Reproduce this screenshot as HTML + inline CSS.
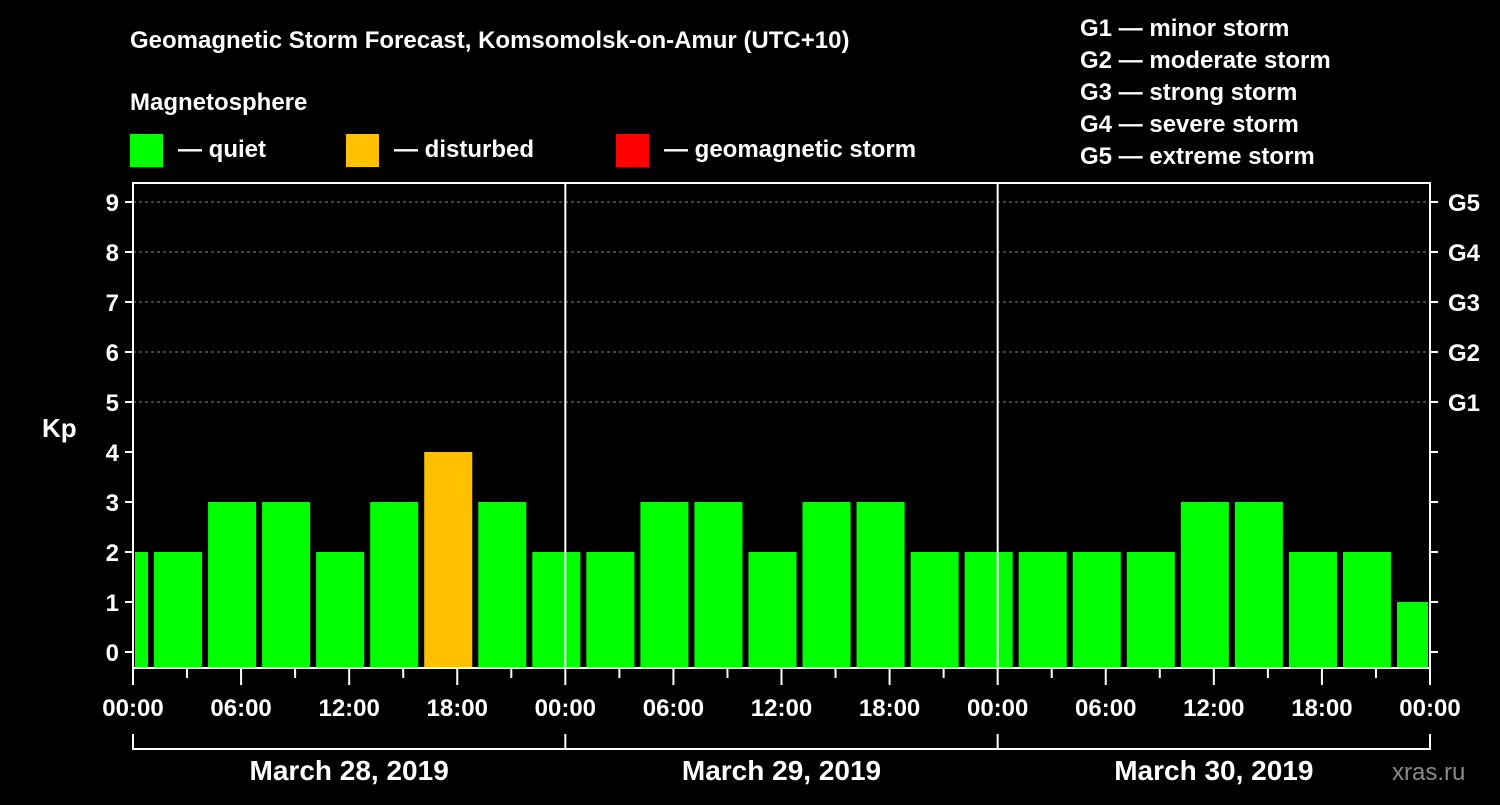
<!DOCTYPE html>
<html><head><meta charset="utf-8"><style>
body{margin:0;background:#000;width:1500px;height:800px;overflow:hidden}
svg text{font-family:"Liberation Sans",Arial,sans-serif;font-weight:bold;fill:#fff}
</style></head><body>
<svg id="c" width="1500" height="800">
<text x="130" y="48" font-size="24">Geomagnetic Storm Forecast, Komsomolsk-on-Amur (UTC+10)</text>
<text x="130" y="110" font-size="24">Magnetosphere</text>
<rect x="130" y="134" width="33" height="33" fill="#00ff00"/>
<text x="178" y="157" font-size="24">— quiet</text>
<rect x="346" y="134" width="33" height="33" fill="#ffc000"/>
<text x="394" y="157" font-size="24">— disturbed</text>
<rect x="616" y="134" width="33" height="33" fill="#ff0000"/>
<text x="664" y="157" font-size="24">— geomagnetic storm</text>
<g font-size="24">
<text x="1080" y="36">G1 — minor storm</text>
<text x="1080" y="68">G2 — moderate storm</text>
<text x="1080" y="100">G3 — strong storm</text>
<text x="1080" y="132">G4 — severe storm</text>
<text x="1080" y="164">G5 — extreme storm</text>
</g>
<text x="42" y="437" font-size="26">Kp</text>
<text x="1392" y="780" font-size="24" fill="#888" style="fill:#8a8a8a;font-weight:normal">xras.ru</text>
<g id="plot"></g>
</svg>
<script>
const values=[2,2,3,3,2,3,4,3,2,2,3,3,2,3,3,2,2,2,2,2,3,3,2,2,1];
const yTicks=[0,1,2,3,4,5,6,7,8,9];
const gLabels=["G1","G2","G3","G4","G5"];
const xLabels=["00:00","06:00","12:00","18:00","00:00","06:00","12:00","18:00","00:00","06:00","12:00","18:00","00:00"];
const days=["March 28, 2019","March 29, 2019","March 30, 2019"];
const L=133,R=1430,T=183,B=668;
const hx=h=>L+h*(R-L)/72;
const ky=v=>652-50*v;
const g=document.getElementById('plot');const NS='http://www.w3.org/2000/svg';
function el(t,a){const e=document.createElementNS(NS,t);for(const k in a)e.setAttribute(k,a[k]);g.appendChild(e);return e;}
// bars: first bin starts at -2h (22:00 prev day)
values.forEach((v,i)=>{
 let s=hx(-2+3*i)+3,e=hx(1+3*i)-3;
 s=Math.max(s,L+2);e=Math.min(e,R-2);
 const r=el('rect',{x:s,y:ky(v),width:e-s,height:B-1-ky(v),fill:v>=5?'#ff0000':v>=4?'#ffc000':'#00ff00'});
 
 
});
// grid
yTicks.forEach(v=>{
 if(v>=5){const l=el('line',{x1:L,x2:R,y1:ky(v),y2:ky(v),stroke:'#888','stroke-dasharray':'3,3','stroke-width':1});
 
 }
 el('line',{x1:L-8,x2:L,y1:ky(v),y2:ky(v),stroke:'#fff','stroke-width':2});
 el('line',{x1:R,x2:R+8,y1:ky(v),y2:ky(v),stroke:'#fff','stroke-width':2});
 const t=el('text',{x:L-14,y:ky(v)+9,'font-size':24,'text-anchor':'end'});t.textContent=v;
 
 
});
gLabels.forEach((s,i)=>{const t=el('text',{x:R+18,y:ky(5+i)+9,'font-size':24});t.textContent=s;
 
 });
// day separators
[24,48].forEach(h=>el('line',{x1:hx(h),x2:hx(h),y1:T,y2:B,stroke:'#fff','stroke-width':2}));
// frame
const f=el('rect',{x:L,y:T,width:R-L,height:B-T,fill:'none',stroke:'#fff','stroke-width':2});


// x ticks
for(let h=0;h<=72;h+=3){el('line',{x1:hx(h),x2:hx(h),y1:B,y2:B+(h%6?10:17),stroke:'#fff','stroke-width':2});}
xLabels.forEach((s,i)=>{const t=el('text',{x:hx(6*i),y:716,'font-size':24,'text-anchor':'middle'});t.textContent=s;
 
 });
// day bracket
el('line',{x1:L,x2:R,y1:749,y2:749,stroke:'#fff','stroke-width':2});
[0,24,48,72].forEach(h=>el('line',{x1:hx(h),x2:hx(h),y1:734,y2:750,stroke:'#fff','stroke-width':2}));
days.forEach((s,i)=>{const t=el('text',{x:hx(24*i+12),y:780,'font-size':28,'text-anchor':'middle'});t.textContent=s;
 
 });
</script>
</body></html>
